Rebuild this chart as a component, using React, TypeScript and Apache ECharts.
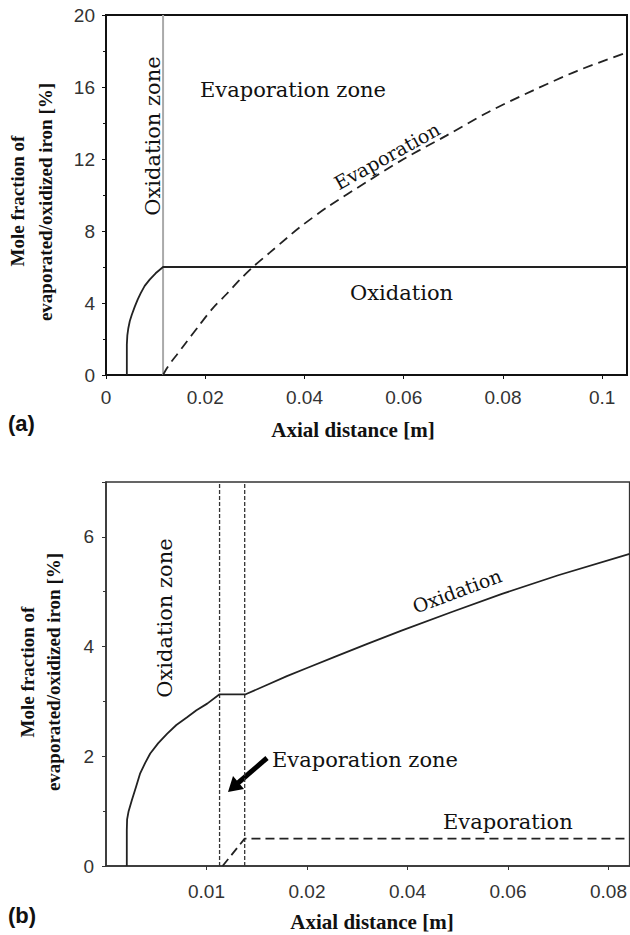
import React, { useEffect, useRef } from "react";
import * as echarts from "echarts";

// ---------- Panel (a) data ----------
const oxidationAX = [0.0042, 0.0042, 0.0043, 0.0045, 0.0048, 0.0052, 0.0058, 0.0064, 0.0070, 0.0078, 0.0088, 0.0100, 0.0115, 0.105];
const oxidationAY = [0, 1.7, 2.2, 2.6, 3.0, 3.35, 3.8, 4.2, 4.55, 4.95, 5.3, 5.65, 6.0, 6.0];
const evaporationAX = [0.0115, 0.0122, 0.0132, 0.0142, 0.0160, 0.0189, 0.0215, 0.0243, 0.0270, 0.0296, 0.0330, 0.0364, 0.0390, 0.0450, 0.0524, 0.0600, 0.0686, 0.0770, 0.0860, 0.0950, 0.1048];
const evaporationAY = [0, 0.35, 0.75, 1.1, 1.75, 2.8, 3.7, 4.5, 5.3, 6.0, 6.8, 7.6, 8.2, 9.4, 10.7, 12.0, 13.3, 14.6, 15.8, 16.9, 17.9];
const zoneBoundaryA = 0.0115;
const yTicksA = [0, 4, 8, 12, 16, 20];

// ---------- Panel (b) data ----------
const oxidationBX = [0.00207, 0.00207, 0.0021, 0.00225, 0.00257, 0.0030, 0.0034, 0.0039, 0.0044, 0.0052, 0.00607, 0.0070, 0.00807, 0.0090, 0.01007, 0.0113, 0.0139, 0.0160, 0.0180, 0.0200, 0.0260, 0.0320, 0.0388, 0.0488, 0.0588, 0.0700, 0.0842];
const oxidationBY = [0, 0.65, 0.85, 1.0, 1.2, 1.45, 1.69, 1.88, 2.05, 2.24, 2.41, 2.57, 2.71, 2.84, 2.96, 3.13, 3.13, 3.30, 3.46, 3.61, 3.83, 4.05, 4.29, 4.63, 4.96, 5.30, 5.69];
const evaporationBX = [0.0116, 0.0138, 0.0842];
const evaporationBY = [0, 0.5, 0.5];
const zoneBoundariesB = [0.0113, 0.0138];
const xTickLabelsB = ["0.01", "0.02", "0.04", "0.06", "0.08"];

// piecewise axis of panel (b): 0..0.02 stretched, then 0.02 per unit
const toU = (x: number) => (x <= 0.02 ? x / 0.01 : 2 + (x - 0.02) / 0.02);

const zip = (xs: number[], ys: number[], f: (x: number) => number = (x) => x) =>
  xs.map((x, i) => [f(x), ys[i]]);

const SERIF = "'DejaVu Serif', 'Liberation Serif', serif";
const TSERIF = "'Liberation Serif', serif";
const SANS = "'Liberation Sans', Arial, sans-serif";

export default function App() {
  const ref = useRef<HTMLDivElement>(null);
  useEffect(() => {
    if (!ref.current) return;
    const chart = echarts.init(ref.current, null, { renderer: "svg" });

    const axisLabelStyle = { color: "#333", fontSize: 19, fontFamily: SANS };
    const txt = (text: string, x: number, y: number, opts: any = {}) => ({
      type: "text",
      x,
      y,
      rotation: opts.rotation || 0,
      style: {
        text,
        fill: "#111",
        font: `${opts.bold ? "bold " : ""}${opts.size || 21}px ${opts.family || SERIF}`,
        align: opts.align || "center",
        verticalAlign: "middle",
      },
    });

    const option: any = {
      animation: false,
      backgroundColor: "#fff",
      grid: [
        { left: 106, top: 15, width: 521, height: 360, show: true, borderColor: "#111", borderWidth: 2, backgroundColor: "transparent" },
        { left: 106, top: 482, width: 527, height: 384, show: true, borderColor: "#333", borderWidth: 1.5, backgroundColor: "transparent" },
      ],
      xAxis: [
        {
          gridIndex: 0, type: "value", min: 0, max: 0.105, interval: 0.02,
          axisLine: { lineStyle: { color: "#111", width: 2 } },
          axisTick: { show: true, length: 4, lineStyle: { color: "#111" } },
          axisLabel: { ...axisLabelStyle, margin: 13, showMaxLabel: false, formatter: (v: number) => String(parseFloat(v.toFixed(3))) },
          splitLine: { show: false },
        },
        {
          gridIndex: 1, type: "value", min: 0, max: toU(0.0842), interval: 1,
          axisLine: { lineStyle: { color: "#333", width: 1.5 } },
          axisTick: { show: true, length: 4, lineStyle: { color: "#333" } },
          axisLabel: {
            ...axisLabelStyle, margin: 16, showMinLabel: false, showMaxLabel: false,
            formatter: (v: number) => (v >= 1 && v <= xTickLabelsB.length ? xTickLabelsB[Math.round(v) - 1] : ""),
          },
          splitLine: { show: false },
        },
      ],
      yAxis: [
        {
          gridIndex: 0, type: "value", min: yTicksA[0], max: yTicksA[yTicksA.length - 1], interval: 4,
          axisLine: { lineStyle: { color: "#111", width: 2 } },
          axisTick: { show: true, length: 4, lineStyle: { color: "#111" } },
          minorTick: { show: true, splitNumber: 2, length: 3, lineStyle: { color: "#111" } },
          axisLabel: { ...axisLabelStyle, margin: 11 },
          splitLine: { show: false },
        },
        {
          gridIndex: 1, type: "value", min: 0, max: 7, interval: 2,
          axisLine: { lineStyle: { color: "#333", width: 1.5 } },
          axisTick: { show: true, length: 4, lineStyle: { color: "#333" } },
          minorTick: { show: true, splitNumber: 2, length: 3, lineStyle: { color: "#333" } },
          axisLabel: { ...axisLabelStyle, margin: 12, showMaxLabel: false },
          splitLine: { show: false },
        },
      ],
      series: [
        {
          type: "line", xAxisIndex: 0, yAxisIndex: 0, showSymbol: false, silent: true,
          data: [[zoneBoundaryA, 0], [zoneBoundaryA, 20]],
          lineStyle: { color: "#aaa", width: 2 },
        },
        {
          type: "line", xAxisIndex: 0, yAxisIndex: 0, showSymbol: false, silent: true,
          data: zip(oxidationAX, oxidationAY),
          lineStyle: { color: "#222", width: 1.8 },
        },
        {
          type: "line", xAxisIndex: 0, yAxisIndex: 0, showSymbol: false, silent: true, smooth: 0.3,
          data: zip(evaporationAX, evaporationAY),
          lineStyle: { color: "#222", width: 1.8, type: [10, 6] },
        },
        ...zoneBoundariesB.map((b) => ({
          type: "line", xAxisIndex: 1, yAxisIndex: 1, showSymbol: false, silent: true,
          data: [[toU(b), 0], [toU(b), 7]],
          lineStyle: { color: "#333", width: 1.3, type: [4, 2] },
        })),
        {
          type: "line", xAxisIndex: 1, yAxisIndex: 1, showSymbol: false, silent: true,
          data: zip(oxidationBX, oxidationBY, toU),
          lineStyle: { color: "#222", width: 1.8 },
        },
        {
          type: "line", xAxisIndex: 1, yAxisIndex: 1, showSymbol: false, silent: true,
          data: zip(evaporationBX, evaporationBY, toU),
          lineStyle: { color: "#222", width: 1.8, type: [9, 5] },
        },
      ],
      graphic: [
        // panel (a)
        txt("Oxidation zone", 153, 136, { rotation: Math.PI / 2 }),
        txt("Evaporation zone", 200, 90, { align: "left" }),
        txt("Evaporation", 387, 156, { rotation: (29 * Math.PI) / 180, size: 19 }),
        txt("Oxidation", 350, 293, { align: "left" }),
        txt("Mole fraction of", 17, 201, { rotation: Math.PI / 2, bold: true, size: 19, family: TSERIF }),
        txt("evaporated/oxidized iron [%]", 45, 202, { rotation: Math.PI / 2, bold: true, size: 19, family: TSERIF }),
        txt("Axial distance [m]", 353, 430, { bold: true, size: 21, family: TSERIF }),
        txt("(a)", 8, 423, { align: "left", bold: true, size: 22, family: SANS }),
        // panel (b)
        txt("Oxidation zone", 165, 618, { rotation: Math.PI / 2 }),
        txt("Evaporation zone", 272, 760, { align: "left" }),
        txt("Oxidation", 457, 591, { rotation: (20.5 * Math.PI) / 180, size: 19 }),
        txt("Evaporation", 443, 822, { align: "left" }),
        txt("Mole fraction of", 27, 672, { rotation: Math.PI / 2, bold: true, size: 19, family: TSERIF }),
        txt("evaporated/oxidized iron [%]", 53, 672, { rotation: Math.PI / 2, bold: true, size: 19, family: TSERIF }),
        txt("Axial distance [m]", 372, 922, { bold: true, size: 21, family: TSERIF }),
        txt("(b)", 8, 915, { align: "left", bold: true, size: 22, family: SANS }),
        // arrow
        { type: "line", shape: { x1: 267, y1: 758, x2: 238, y2: 783 }, style: { stroke: "#000", lineWidth: 5 } },
        { type: "polygon", shape: { points: [[228, 792], [244, 789], [233, 776]] }, style: { fill: "#000" } },
      ],
    };

    chart.setOption(option);
    return () => chart.dispose();
  }, []);

  return <div ref={ref} style={{ position: "absolute", left: 0, top: 0, width: 630, height: 935, background: "#fff" }} />;
}
